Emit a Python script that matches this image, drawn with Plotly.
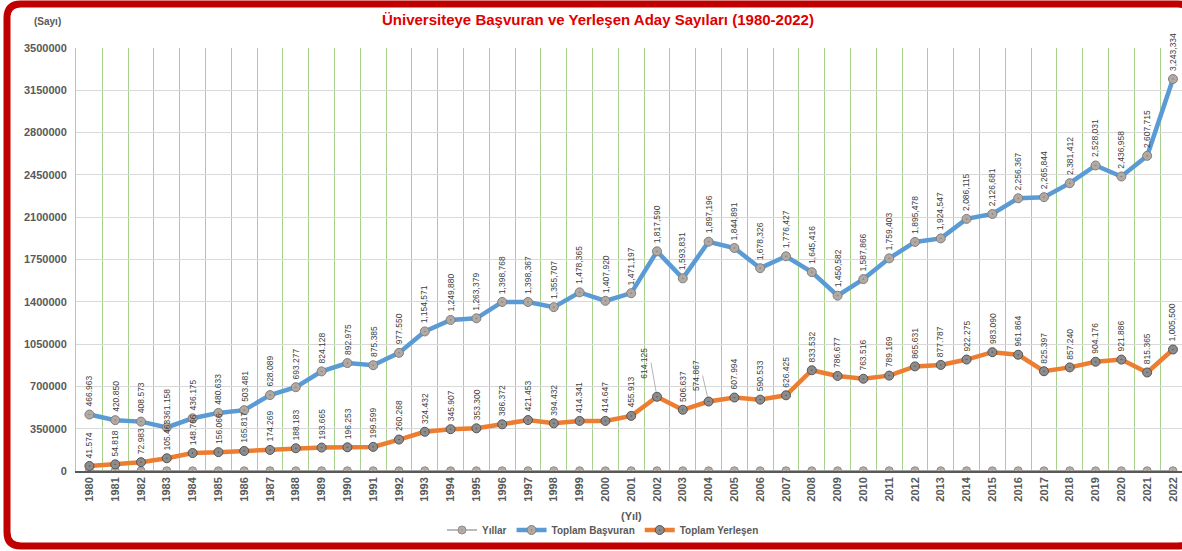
import plotly.graph_objects as go

# ---------------- data ----------------
years = list(range(1980, 2023))
yillar = list(range(1980, 2023))  # "Yıllar" series (plotted values = the years)
basvuran = [466963, 420850, 408573, 361158, 436175, 480633, 503481, 628089, 693277, 824128,
            892975, 875385, 977550, 1154571, 1249880, 1263379, 1398768, 1398367, 1355707, 1478365,
            1407920, 1471197, 1817590, 1593831, 1897196, 1844891, 1678326, 1776427, 1645416, 1450582,
            1587866, 1759403, 1895478, 1924547, 2086115, 2126681, 2256367, 2265844, 2381412, 2528031,
            2436958, 2607715, 3243334]
yerlesen = [41574, 54818, 72983, 105463, 148766, 156066, 165817, 174269, 188183, 193665,
            196253, 199599, 260268, 324432, 345907, 353300, 386372, 421453, 394432, 414341,
            414647, 455913, 614125, 506637, 574867, 607994, 590533, 626425, 833532, 786677,
            763516, 789169, 865631, 877787, 922275, 983090, 961864, 825397, 857240, 904176,
            921886, 815365, 1005500]
y_ticks = [0, 350000, 700000, 1050000, 1400000, 1750000, 2100000, 2450000, 2800000, 3150000, 3500000]
series_names = ["Yıllar", "Toplam Başvuran", "Toplam Yerleşen"]
title_text = "Üniversiteye Başvuran ve Yerleşen Aday Sayıları (1980-2022)"

# ---------------- layout geometry ----------------
W, H = 1182, 551
ML, MR, MT, MB = 76, 0, 48, 80
PW, PH = W - ML - MR, H - MT - MB
FONT = "Arial, Liberation Sans, sans-serif"
TXT = "#404040"
AX = "#595959"


def px2paper(px, py):
    return (px - ML) / PW, (H - MB - py) / PH


def fmt(v):
    s = f"{v:,}"
    return s if v >= 1_000_000 else s.replace(",", ".")


fig = go.Figure()
fig.add_trace(go.Scatter(
    x=years, y=yillar, name=series_names[0], mode="lines+markers",
    line=dict(color="#A5A5A5", width=1.5),
    marker=dict(symbol="circle-dot", size=8, color="#B8ADA6", line=dict(color="#8C8C8C", width=1))))
fig.add_trace(go.Scatter(
    x=years, y=basvuran, name=series_names[1], mode="lines+markers",
    line=dict(color="#5B9BD5", width=4.5),
    marker=dict(symbol="circle-dot", size=9, color="#B3A9A3", line=dict(color="#7F7F7F", width=1))))
fig.add_trace(go.Scatter(
    x=years, y=yerlesen, name=series_names[2], mode="lines+markers",
    line=dict(color="#ED7D31", width=4.5),
    marker=dict(symbol="circle-dot", size=9, color="#8C8C8C", line=dict(color="#555555", width=1))))

annotations = []
lab_font = dict(family=FONT, size=8.5, color=TXT)
for yr, v in zip(years, basvuran):
    annotations.append(dict(x=yr, y=v, xref="x", yref="y", text=fmt(v), textangle=-90,
                            showarrow=False, xanchor="center", yanchor="bottom", yshift=6,
                            font=lab_font))
leader = {2002: -34, 2004: -26}
for yr, v in zip(years, yerlesen):
    if yr in leader:
        annotations.append(dict(x=yr, y=v, xref="x", yref="y", text=fmt(v), textangle=-90,
                                showarrow=True, arrowhead=0, arrowwidth=0.8, arrowcolor="#A0A0A0",
                                ax=-6, ay=leader[yr], xanchor="center", yanchor="bottom",
                                standoff=5, font=lab_font))
    else:
        annotations.append(dict(x=yr, y=v, xref="x", yref="y", text=fmt(v), textangle=-90,
                                showarrow=False, xanchor="center", yanchor="bottom", yshift=6,
                                font=lab_font))

tx, ty = px2paper(598, 20)
annotations.append(dict(x=tx, y=ty, xref="paper", yref="paper", text=f"<b>{title_text}</b>",
                        showarrow=False, xanchor="center", yanchor="middle",
                        font=dict(family=FONT, size=15, color="#E00000")))
sx, sy = px2paper(47, 21)
annotations.append(dict(x=sx, y=sy, xref="paper", yref="paper", text="<b>(Sayı)</b>",
                        showarrow=False, xanchor="center", yanchor="middle",
                        font=dict(family=FONT, size=10, color=AX)))
yx, yy = px2paper(631, 516)
annotations.append(dict(x=yx, y=yy, xref="paper", yref="paper", text="<b>(Yıl)</b>",
                        showarrow=False, xanchor="center", yanchor="middle",
                        font=dict(family=FONT, size=11, color=AX)))

# rounded red frame around the whole chart
x0, y0, x1, y1, r = 7, 4, 1192, 546, 14


def P(a, b):
    u, v = px2paper(a, b)
    return f"{u:.5f},{v:.5f}"


path = (f"M{P(x0 + r, y0)} L{P(x1 - r, y0)} Q{P(x1, y0)} {P(x1, y0 + r)} "
        f"L{P(x1, y1 - r)} Q{P(x1, y1)} {P(x1 - r, y1)} L{P(x0 + r, y1)} "
        f"Q{P(x0, y1)} {P(x0, y1 - r)} L{P(x0, y0 + r)} Q{P(x0, y0)} {P(x0 + r, y0)} Z")

lgx, lgy = px2paper(603, 530)

fig.update_layout(
    width=W, height=H,
    margin=dict(l=ML, r=MR, t=MT, b=MB, autoexpand=False),
    paper_bgcolor="white", plot_bgcolor="white",
    font=dict(family=FONT, color=TXT),
    showlegend=True,
    legend=dict(orientation="h", x=lgx, y=lgy, xanchor="center", yanchor="middle",
                font=dict(family=FONT, size=10, color=AX, weight="bold"),
                bgcolor="rgba(0,0,0,0)", itemwidth=30),
    xaxis=dict(range=[1979.48, 2022.35], tickmode="array", tickvals=years,
               ticktext=[str(y) for y in years], tickangle=-90,
               tickfont=dict(family=FONT, size=11, color=AX, weight="bold"),
               showgrid=False, zeroline=False, ticks="",
               showline=True, linecolor="#595959", linewidth=1.5,
               minor=dict(tickmode="linear", tick0=1979.5, dtick=1, showgrid=True,
                          gridcolor="#A9D18E", gridwidth=1, ticks="")),
    yaxis=dict(range=[0, 3500000], tickmode="array", tickvals=y_ticks,
               ticktext=[str(v) for v in y_ticks],
               tickfont=dict(family=FONT, size=11, color=AX, weight="bold"),
               showgrid=True, gridcolor="#D9D9D9", gridwidth=1, zeroline=False, ticks="",
               showline=True, linecolor="#BFBFBF", linewidth=1, ticklabelstandoff=6),
    annotations=annotations,
    shapes=[dict(type="path", xref="paper", yref="paper", path=path,
                 line=dict(color="#C00000", width=7), fillcolor="rgba(0,0,0,0)", layer="above")],
)

fig.write_html("out.html", config={"displayModeBar": False},
               post_script="document.body.style.margin='0';document.body.style.overflow='hidden';")
